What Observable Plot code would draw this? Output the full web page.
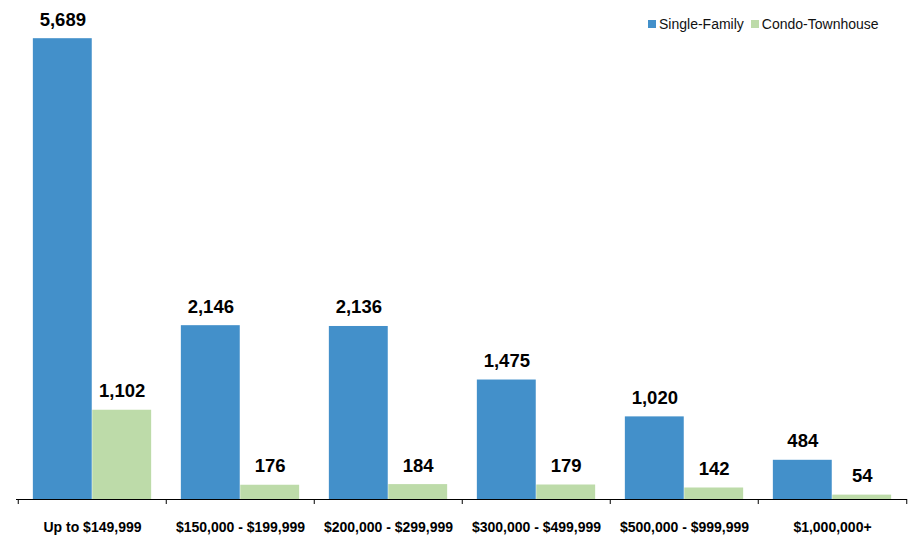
<!DOCTYPE html>
<html>
<head>
<meta charset="utf-8">
<script src="https://cdn.jsdelivr.net/npm/d3@7"></script>
<script src="https://cdn.jsdelivr.net/npm/@observablehq/plot@0.6"></script>
<style>
  body { margin: 0; background: #fff; }
  #wrap { position: relative; width: 917px; height: 542px; font-family: "Liberation Sans", Arial, sans-serif; }
  #legend { position: absolute; top: 16px; left: 648px; font-size: 14px; color: #111; display: flex; align-items: center; white-space: nowrap; }
  #legend .sw { display: inline-block; width: 8px; height: 8px; margin-right: 3px; }
  #legend .item { display: flex; align-items: center; margin-right: 7px; }
</style>
</head>
<body>
<div id="wrap"><div id="legend"></div></div>
<script>
const categories = ["Up to $149,999", "$150,000 - $199,999", "$200,000 - $299,999", "$300,000 - $499,999", "$500,000 - $999,999", "$1,000,000+"];
const singleFamily = [5689, 2146, 2136, 1475, 1020, 484];
const condoTownhouse = [1102, 176, 184, 179, 142, 54];
const seriesNames = ["Single-Family", "Condo-Townhouse"];
const seriesColors = ["#4390ca", "#bddba9"];

const table = categories.map((c, i) => ({category: c, single: singleFamily[i], condo: condoTownhouse[i]}));

const W = 917, H = 542, mL = 16, mR = 10, mT = 13, mB = 43;
const step = (W - mL - mR) / categories.length;
const fmt = d3.format(",");

const chart = Plot.plot({
  width: W,
  height: H,
  marginLeft: mL,
  marginRight: mR,
  marginTop: mT,
  marginBottom: mB,
  style: {fontFamily: "Liberation Sans, Arial, sans-serif", background: "white"},
  x: {domain: categories, padding: 0, label: null},
  y: {domain: [0, 6000], axis: null},
  marks: [
    Plot.barY(table, {x: "category", y: "single", fill: seriesColors[0], insetLeft: step * 0.1, insetRight: step * 0.5}),
    Plot.barY(table, {x: "category", y: "condo", fill: seriesColors[1], insetLeft: step * 0.5, insetRight: step * 0.1}),
    Plot.text(table, {x: "category", y: "single", text: d => fmt(d.single), dx: -step * 0.2, dy: -13, lineAnchor: "bottom", fontSize: 18.5, fontWeight: "bold", fill: "#000"}),
    Plot.text(table, {x: "category", y: "condo", text: d => fmt(d.condo), dx: step * 0.2, dy: -13, lineAnchor: "bottom", fontSize: 18.5, fontWeight: "bold", fill: "#000"}),
    Plot.ruleY([0], {stroke: "#000", strokeWidth: 1.2}),
    Plot.ruleX(categories, {x: d => d, y1: 0, y2: 0, dx: -step / 2, insetBottom: -5, stroke: "#000"}),
    Plot.ruleX(categories.slice(-1), {x: d => d, y1: 0, y2: 0, dx: step / 2, insetBottom: -5, stroke: "#000"}),
    Plot.axisX({tickSize: 0, tickPadding: 23, fontSize: 14, fontWeight: "bold", fill: "#000", label: null})
  ]
});
document.getElementById("wrap").prepend(chart);

const legend = document.getElementById("legend");
seriesNames.forEach((name, i) => {
  const item = document.createElement("span");
  item.className = "item";
  const sw = document.createElement("span");
  sw.className = "sw";
  sw.style.background = seriesColors[i];
  item.appendChild(sw);
  item.appendChild(document.createTextNode(name));
  legend.appendChild(item);
});
</script>
</body>
</html>
